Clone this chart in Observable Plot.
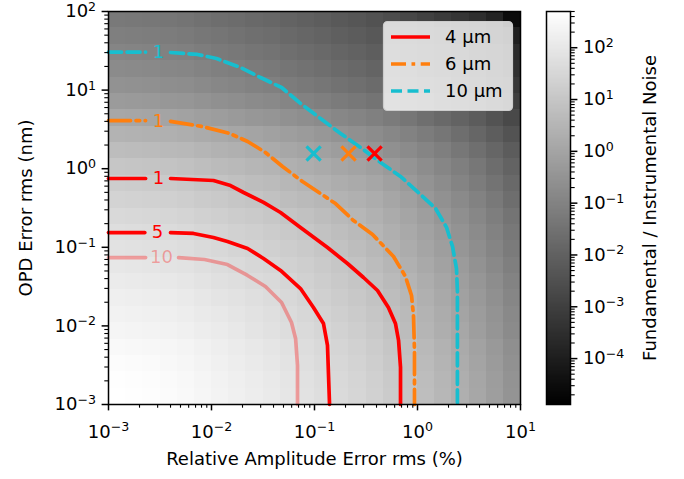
<!DOCTYPE html>
<html><head><meta charset="utf-8">
<script src="https://cdn.jsdelivr.net/npm/d3@7"></script>
<script src="https://cdn.jsdelivr.net/npm/@observablehq/plot@0.6"></script>
<style>
html,body{margin:0;padding:0;background:#fff;}
#wrap{position:relative;width:684px;height:479px;overflow:hidden;font-family:"DejaVu Sans";}
#wrap svg{position:absolute;top:0;overflow:visible;}
</style></head><body><div id="wrap"></div>
<script>
// ---------------- data ----------------
// log10(Fundamental / Instrumental Noise) per cell; rows from OPD 1e-3 nm (bottom) to 1e2 nm (top),
// columns from 1e-3 % to 1e1 % relative amplitude error
const ratioLog10 = [
 [2.70,2.67,2.64,2.58,2.52,2.43,2.34,2.25,2.16,2.07,1.95,1.84,1.72,1.60,1.48,1.33,1.15,0.97,0.76,0.55,0.32,0.08,-0.19,-0.49],
 [2.67,2.64,2.61,2.55,2.49,2.40,2.31,2.22,2.13,2.04,1.92,1.81,1.69,1.57,1.45,1.30,1.12,0.94,0.73,0.52,0.29,0.05,-0.22,-0.52],
 [2.61,2.58,2.56,2.50,2.44,2.35,2.26,2.17,2.08,1.99,1.87,1.76,1.64,1.52,1.40,1.25,1.07,0.89,0.68,0.47,0.24,0.00,-0.27,-0.57],
 [2.52,2.49,2.47,2.42,2.37,2.28,2.19,2.10,2.01,1.92,1.80,1.69,1.57,1.45,1.33,1.18,1.00,0.82,0.61,0.40,0.17,-0.07,-0.34,-0.64],
 [2.40,2.37,2.35,2.30,2.25,2.17,2.09,2.00,1.91,1.82,1.70,1.59,1.47,1.35,1.23,1.08,0.90,0.72,0.51,0.30,0.07,-0.18,-0.45,-0.75],
 [2.31,2.28,2.26,2.21,2.16,2.08,2.00,1.92,1.83,1.74,1.62,1.51,1.39,1.27,1.15,1.00,0.82,0.64,0.43,0.22,-0.01,-0.25,-0.52,-0.82],
 [2.22,2.19,2.17,2.12,2.07,1.99,1.91,1.84,1.75,1.66,1.54,1.43,1.31,1.19,1.07,0.92,0.74,0.56,0.35,0.14,-0.09,-0.33,-0.60,-0.90],
 [2.10,2.07,2.05,2.00,1.95,1.87,1.79,1.72,1.64,1.56,1.44,1.33,1.21,1.09,0.97,0.82,0.64,0.46,0.25,0.04,-0.19,-0.43,-0.70,-1.00],
 [1.98,1.95,1.93,1.88,1.83,1.75,1.67,1.60,1.52,1.44,1.34,1.23,1.11,0.99,0.87,0.72,0.54,0.36,0.15,-0.06,-0.29,-0.53,-0.80,-1.10],
 [1.84,1.81,1.79,1.74,1.69,1.61,1.53,1.46,1.38,1.30,1.20,1.11,0.99,0.87,0.75,0.60,0.42,0.24,0.03,-0.18,-0.41,-0.65,-0.92,-1.22],
 [1.72,1.69,1.67,1.62,1.57,1.49,1.41,1.34,1.26,1.18,1.08,0.99,0.89,0.77,0.65,0.50,0.32,0.14,-0.07,-0.28,-0.51,-0.75,-1.02,-1.32],
 [1.57,1.54,1.52,1.47,1.42,1.34,1.26,1.19,1.11,1.03,0.93,0.84,0.74,0.63,0.52,0.37,0.19,0.01,-0.20,-0.41,-0.64,-0.88,-1.15,-1.45],
 [1.39,1.36,1.34,1.29,1.24,1.16,1.08,1.01,0.93,0.85,0.75,0.66,0.56,0.45,0.35,0.22,0.04,-0.14,-0.35,-0.56,-0.79,-1.03,-1.30,-1.60],
 [1.21,1.18,1.16,1.11,1.06,0.98,0.90,0.83,0.75,0.67,0.57,0.48,0.38,0.27,0.17,0.05,-0.12,-0.30,-0.51,-0.72,-0.95,-1.19,-1.46,-1.76],
 [1.00,0.97,0.95,0.90,0.85,0.77,0.69,0.62,0.54,0.46,0.36,0.27,0.17,0.06,-0.04,-0.16,-0.32,-0.47,-0.68,-0.89,-1.12,-1.36,-1.63,-1.93],
 [0.73,0.70,0.68,0.63,0.58,0.50,0.42,0.35,0.27,0.19,0.09,0.00,-0.10,-0.21,-0.31,-0.43,-0.59,-0.74,-0.92,-1.12,-1.35,-1.59,-1.86,-2.16],
 [0.44,0.41,0.39,0.34,0.29,0.21,0.13,0.06,-0.02,-0.10,-0.20,-0.29,-0.39,-0.50,-0.60,-0.72,-0.88,-1.03,-1.21,-1.39,-1.60,-1.84,-2.11,-2.41],
 [0.08,0.05,0.03,-0.02,-0.07,-0.15,-0.23,-0.30,-0.38,-0.46,-0.56,-0.65,-0.75,-0.86,-0.96,-1.08,-1.24,-1.39,-1.57,-1.75,-1.94,-2.15,-2.42,-2.72],
 [-0.28,-0.31,-0.33,-0.38,-0.43,-0.51,-0.59,-0.66,-0.74,-0.82,-0.92,-1.01,-1.11,-1.22,-1.32,-1.44,-1.60,-1.75,-1.93,-2.11,-2.30,-2.51,-2.74,-3.02],
 [-0.55,-0.58,-0.60,-0.65,-0.70,-0.78,-0.86,-0.93,-1.01,-1.09,-1.19,-1.28,-1.38,-1.49,-1.59,-1.71,-1.87,-2.02,-2.20,-2.38,-2.57,-2.78,-3.01,-3.26],
 [-0.76,-0.79,-0.81,-0.86,-0.91,-0.99,-1.07,-1.14,-1.22,-1.30,-1.40,-1.49,-1.59,-1.70,-1.80,-1.92,-2.08,-2.23,-2.41,-2.59,-2.78,-2.99,-3.22,-3.47],
 [-0.94,-0.97,-0.99,-1.04,-1.09,-1.17,-1.25,-1.32,-1.40,-1.48,-1.58,-1.67,-1.77,-1.88,-1.98,-2.10,-2.26,-2.41,-2.59,-2.77,-2.96,-3.17,-3.40,-3.65],
 [-1.11,-1.14,-1.16,-1.21,-1.26,-1.34,-1.42,-1.49,-1.57,-1.65,-1.75,-1.84,-1.94,-2.05,-2.15,-2.27,-2.43,-2.58,-2.76,-2.94,-3.13,-3.34,-3.62,-3.95],
 [-1.29,-1.32,-1.34,-1.39,-1.44,-1.52,-1.60,-1.67,-1.75,-1.83,-1.93,-2.02,-2.12,-2.23,-2.33,-2.45,-2.61,-2.76,-2.94,-3.12,-3.31,-3.52,-3.85,-4.55]
];

// contour lines (x = amplitude error %, y = OPD nm), split around the inline label
const red1Left   = [[0.001,0.750],[0.00229,0.750]];
const red1Right  = [[0.0040,0.750],[0.01045,0.708],[0.0153,0.611],[0.0205,0.498],[0.0320,0.372],[0.0468,0.277],[0.0731,0.179],[0.1337,0.0993],[0.209,0.0622],[0.299,0.0413],[0.409,0.0282],[0.522,0.01714],[0.611,0.01074],[0.655,0.00652],[0.684,0.00296],[0.684,0.001]];
const red5Left   = [[0.001,0.154],[0.00225,0.154]];
const red5Right  = [[0.0040,0.154],[0.00668,0.150],[0.01045,0.1334],[0.01429,0.1186],[0.0224,0.0966],[0.0320,0.0721],[0.0468,0.0507],[0.0731,0.0299],[0.0977,0.01714],[0.1222,0.01074],[0.1337,0.00564],[0.140,0.001]];
const red10Left  = [[0.001,0.0741],[0.00229,0.0741]];
const red10Right = [[0.00479,0.0741],[0.00855,0.0700],[0.01429,0.0604],[0.0224,0.0438],[0.0334,0.0317],[0.0479,0.01987],[0.0598,0.01104],[0.0655,0.00692],[0.0684,0.00313],[0.0684,0.001]];
const orange1Left  = [[0.001,4.10],[0.00229,4.10]];
const orange1Right = [[0.0040,4.0],[0.00818,3.44],[0.01496,2.81],[0.0224,2.22],[0.0334,1.607],[0.0489,1.067],[0.0764,0.687],[0.1143,0.483],[0.160,0.360],[0.239,0.219],[0.366,0.1455],[0.585,0.0764],[0.764,0.0425],[0.875,0.0244],[0.914,0.01355],[0.935,0.00486],[0.935,0.001]];
const cyan1Left  = [[0.001,30.5],[0.00229,30.5]];
const cyan1Right = [[0.0040,30.1],[0.00731,28.4],[0.0112,25.2],[0.01914,19.4],[0.0299,14.45],[0.0479,10.8],[0.0731,6.76],[0.1143,4.35],[0.179,2.81],[0.280,1.862],[0.438,1.20],[0.684,0.796],[1.069,0.470],[1.496,0.312],[1.914,0.179],[2.19,0.102],[2.39,0.0537],[2.44,0.0282],[2.44,0.001]];

// inline contour labels: [x, y, text]
const red1Label = [0.00305, 0.750, "1"];
const red5Label = [0.00299, 0.154, "5"];
const red10Label = [0.00327, 0.0741, "10"];
const orange1Label = [0.00305, 4.05, "1"];
const cyan1Label = [0.00305, 30.5, "1"];

// operating points (x markers)
const pointX = [0.383, 0.214, 0.098];   // 4, 6, 10 µm
const pointY = [1.56, 1.56, 1.56];
const wavelengths = ["4 µm", "6 µm", "10 µm"];

// axes
const xMajor = [1e-3, 1e-2, 1e-1, 1e0, 1e1];
const yMajor = [1e-3, 1e-2, 1e-1, 1e0, 1e1, 1e2];
const cbarMajor = [1e-4, 1e-3, 1e-2, 1e-1, 1e0, 1e1, 1e2];
const cbarMin = 1.3e-5, cbarMax = 500;
const xLabel = "Relative Amplitude Error rms (%)";
const yLabel = "OPD Error rms (nm)";
const cbarLabel = "Fundamental / Instrumental Noise";

// ---------------- drawing ----------------
const RED = "#ff0000", ORANGE = "#ff7f0e", CYAN = "#17becf";
const FONT = "DejaVu Sans";
const minorTicks = (lo, hi) => {
  const out = [];
  for (let e = lo; e < hi; e++) for (let m = 2; m <= 9; m++) out.push(m * 10 ** e);
  return out;
};
const fmt = d => "10^" + Math.round(Math.log10(d));
const grayInterp = t => d3.interpolateRgb("#000000", "#ffffff")(Math.max(0, Math.min(1, t)));
const colorScale = {type: "log", domain: [cbarMin, cbarMax], interpolate: grayInterp, clamp: true};

const xEdges = d3.range(25).map(i => 10 ** (-3 + i / 6));
const yEdges = d3.range(25).map(i => 10 ** (-3 + i * 5 / 24));
const cells = [];
ratioLog10.forEach((row, r) => row.forEach((v, c) =>
  cells.push({x1: xEdges[c], x2: xEdges[c + 1], y1: yEdges[r], y2: yEdges[r + 1], v: 10 ** v})));

const LW = 3.7;
const seg = (pts, stroke, extra = {}) => Plot.line(pts, {x: d => d[0], y: d => d[1], stroke, strokeWidth: LW, ...extra});
const lab = (l, fill, extra = {}) => Plot.text([l], {x: d => d[0], y: d => d[1], text: d => d[2], fill, fontSize: 18, fontFamily: FONT, ...extra});
const dashCyan = "13,5.5";
const dashOrange = "22,5.5,3.7,5.5";

const main = Plot.plot({
  width: 684, height: 479,
  marginLeft: 108, marginRight: 164, marginTop: 11, marginBottom: 75,
  x: {type: "log", domain: [1e-3, 1e1], axis: null},
  y: {type: "log", domain: [1e-3, 1e2], axis: null},
  color: colorScale,
  style: {fontFamily: FONT, background: "transparent", overflow: "visible"},
  marks: [
    Plot.rect(cells, {x1: "x1", x2: "x2", y1: "y1", y2: "y2", fill: "v", shapeRendering: "crispEdges"}),
    seg(red10Left, RED, {strokeOpacity: 0.32}), seg(red10Right, RED, {strokeOpacity: 0.32}),
    seg(red5Left, RED), seg(red5Right, RED),
    seg(red1Left, RED), seg(red1Right, RED),
    seg(orange1Left, ORANGE, {strokeDasharray: dashOrange}), seg(orange1Right, ORANGE, {strokeDasharray: dashOrange}),
    seg(cyan1Left, CYAN, {strokeDasharray: dashCyan}), seg(cyan1Right, CYAN, {strokeDasharray: dashCyan}),
    lab(red10Label, RED, {fillOpacity: 0.32}), lab(red5Label, RED), lab(red1Label, RED),
    lab(orange1Label, ORANGE), lab(cyan1Label, CYAN),
    Plot.dot([0], {x: i => pointX[0], y: i => pointY[0], symbol: "times", r: 6.5, stroke: RED, strokeWidth: 3.2}),
    Plot.dot([1], {x: i => pointX[1], y: i => pointY[1], symbol: "times", r: 6.5, stroke: ORANGE, strokeWidth: 3.2}),
    Plot.dot([2], {x: i => pointX[2], y: i => pointY[2], symbol: "times", r: 6.5, stroke: CYAN, strokeWidth: 3.2}),
    Plot.frame({stroke: "black", strokeWidth: 1.5}),
    Plot.axisX({ticks: xMajor, tickFormat: fmt, tickSize: 6.4, tickPadding: 14, strokeWidth: 1.5, fontSize: 18, label: null}),
    Plot.axisX({ticks: minorTicks(-3, 1), tickFormat: () => "", tickSize: 3.7, strokeWidth: 1.1, label: null}),
    Plot.axisY({ticks: yMajor, tickFormat: fmt, tickSize: 6.4, tickPadding: 6, strokeWidth: 1.5, fontSize: 18, label: null}),
    Plot.axisY({ticks: minorTicks(-3, 2), tickFormat: () => "", tickSize: 3.7, strokeWidth: 1.1, label: null}),
    Plot.text([xLabel], {frameAnchor: "bottom", dy: 60, text: d => d, textAnchor: "middle", fontSize: 18, fontFamily: FONT, fill: "black"}),
    Plot.text([yLabel], {frameAnchor: "left", dx: -82, rotate: -90, textAnchor: "middle", text: d => d, fontSize: 18, fontFamily: FONT, fill: "black"})
  ]
});
main.style.left = "0px";

// colorbar
const nSteps = 300;
const lmin = Math.log10(cbarMin), lmax = Math.log10(cbarMax);
const steps = d3.range(nSteps).map(i => ({
  a: 10 ** (lmin + (lmax - lmin) * i / nSteps),
  b: 10 ** (lmin + (lmax - lmin) * (i + 1) / nSteps),
  v: 10 ** (lmin + (lmax - lmin) * (i + 0.5) / nSteps)
}));
const cbar = Plot.plot({
  width: 154, height: 479,
  marginLeft: 16, marginRight: 114, marginTop: 11, marginBottom: 75,
  y: {type: "log", domain: [cbarMin, cbarMax], axis: null},
  color: colorScale,
  style: {fontFamily: FONT, background: "transparent", overflow: "visible"},
  marks: [
    Plot.rect(steps, {y1: "a", y2: "b", fill: "v", shapeRendering: "crispEdges"}),
    Plot.frame({stroke: "black", strokeWidth: 1.5}),
    Plot.axisY({anchor: "right", ticks: cbarMajor, tickFormat: fmt, tickSize: 6.4, tickPadding: 6, strokeWidth: 1.5, fontSize: 18, label: null}),
    Plot.axisY({anchor: "right", ticks: minorTicks(-5, 3).filter(v => v >= cbarMin && v <= cbarMax), tickFormat: () => "", tickSize: 3.7, strokeWidth: 1.1, label: null}),
    Plot.text([cbarLabel], {frameAnchor: "right", dx: 80, rotate: -90, textAnchor: "middle", text: d => d, fontSize: 18, fontFamily: FONT, fill: "black"})
  ]
});
cbar.style.left = "530px";

// superscript tick labels
function superscripts(svg) {
  const ns = "http://www.w3.org/2000/svg";
  svg.querySelectorAll("text").forEach(t => {
    const m = /^10\^(-?\d+)$/.exec(t.textContent.trim());
    if (!m) return;
    t.textContent = "";
    const a = document.createElementNS(ns, "tspan");
    a.textContent = "10";
    const b = document.createElementNS(ns, "tspan");
    b.setAttribute("dy", "-0.5em");
    b.setAttribute("font-size", "0.7em");
    b.textContent = m[1].replace("-", "\u2212");
    t.append(a, b);
  });
}
superscripts(main);
superscripts(cbar);

const wrap = document.getElementById("wrap");
wrap.append(main, cbar);

// legend
const leg = d3.create("svg").attr("width", 684).attr("height", 479)
  .style("left", "0px").style("pointer-events", "none");
leg.append("rect").attr("x", 383.5).attr("y", 21.5).attr("width", 129).attr("height", 89).attr("rx", 4)
  .attr("fill", "white").attr("fill-opacity", 0.8).attr("stroke", "#cccccc").attr("stroke-width", 1.2);
const legStroke = [RED, ORANGE, CYAN];
const legDash = [null, "15,5.5,3.7,5.5", "11,5.5"];
wavelengths.forEach((w, i) => {
  const y = 37 + 27 * i;
  const ln = leg.append("line").attr("x1", 391).attr("x2", 430).attr("y1", y).attr("y2", y)
    .attr("stroke", legStroke[i]).attr("stroke-width", LW);
  if (legDash[i]) ln.attr("stroke-dasharray", legDash[i]);
  leg.append("text").attr("x", 445).attr("y", y).attr("dy", "0.35em")
    .attr("font-family", FONT).attr("font-size", 18).attr("fill", "black").text(w);
});
wrap.append(leg.node());
</script></body></html>
